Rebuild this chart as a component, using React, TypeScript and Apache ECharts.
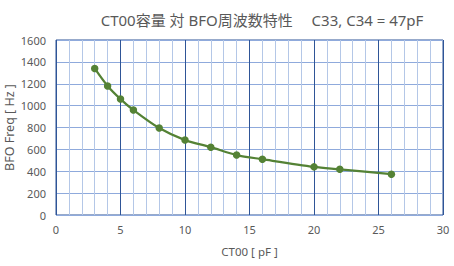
import React, { useEffect, useRef } from "react";
import * as echarts from "echarts";

const titleText = "CT00容量 対 BFO周波数特性　 C33, C34 = 47pF";
const xName = "CT00 [ pF ]";
const yName = "BFO Freq [ Hz ]";
const ct00 = [3, 4, 5, 6, 8, 10, 12, 14, 16, 20, 22, 26];
const bfoFreq = [1340, 1180, 1060, 960, 795, 685, 620, 548, 510, 440, 418, 373];

const FONT = "'Noto Sans', 'Noto Sans CJK JP', sans-serif";

export default function App() {
  const ref = useRef<HTMLDivElement>(null);
  useEffect(() => {
    if (!ref.current) return;
    const chart = echarts.init(ref.current, undefined, { renderer: "svg" });
    chart.setOption({
      animation: false,
      backgroundColor: "#ffffff",
      title: {
        text: titleText,
        left: 257,
        top: 7,
        textAlign: "center",
        textStyle: { fontFamily: FONT, fontSize: 15, fontWeight: "normal", color: "#595959" },
      },
      grid: {
        left: 56,
        right: 11,
        top: 40,
        bottom: 51,
        containLabel: false,
        outerBoundsMode: "none",
        show: true,
        borderColor: "#2F5597",
        borderWidth: 1,
      },
      xAxis: {
        type: "value",
        min: 0,
        max: 30,
        interval: 5,
        name: xName,
        nameLocation: "middle",
        nameGap: 31,
        nameMoveOverlap: false,
        nameTextStyle: { fontFamily: FONT, fontSize: 11.5, color: "#595959" },
        axisLine: { show: false },
        axisTick: { show: false },
        axisLabel: { fontFamily: FONT, fontSize: 11, color: "#595959", margin: 9 },
        splitLine: { show: true, lineStyle: { color: "#2F5597", width: 1 } },
        minorTick: { show: false, splitNumber: 5 },
        minorSplitLine: { show: true, lineStyle: { color: "#B4C7E7", width: 1 } },
      },
      yAxis: {
        type: "value",
        min: 0,
        max: 1600,
        interval: 200,
        name: yName,
        nameLocation: "middle",
        nameGap: 40,
        nameMoveOverlap: false,
        nameTextStyle: { fontFamily: FONT, fontSize: 12.5, color: "#595959" },
        axisLine: { show: false },
        axisTick: { show: false },
        axisLabel: {
          fontFamily: FONT,
          fontSize: 11,
          color: "#595959",
          margin: 10,
          formatter: (v: number) => String(v),
        },
        splitLine: { show: true, lineStyle: { color: "#8FAADC", width: 1 } },
      },
      series: [
        {
          type: "line",
          data: ct00.map((x, i) => [x, bfoFreq[i]]),
          smooth: 0.3,
          symbol: "circle",
          symbolSize: 7.5,
          lineStyle: { color: "#548235", width: 2.25 },
          itemStyle: { color: "#548235" },
          z: 5,
        },
      ],
    });
    return () => chart.dispose();
  }, []);
  return (
    <div
      ref={ref}
      style={{ position: "fixed", left: 0, top: 0, width: 454, height: 266, background: "#fff" }}
    />
  );
}
